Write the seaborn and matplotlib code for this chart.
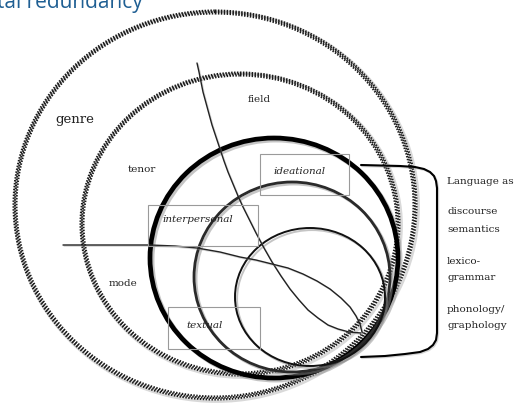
import numpy as np
import pandas as pd
import matplotlib
matplotlib.use("Agg")
import matplotlib.pyplot as plt
import matplotlib.patheffects as pe
from matplotlib.patches import Ellipse, Rectangle
import seaborn as sns

# Diagram geometry (pixel coordinates)
ring_names = ["genre", "register", "language", "discourse", "lexicogrammar"]
ring_cx = [215, 240, 274, 292, 310]
ring_cy = [205, 224, 258, 277, 297]
ring_w = [400, 316, 248, 196, 150]
ring_h = [386, 300, 240, 190, 138]

field_x = [197, 199, 201, 203, 206, 209, 212, 216, 220, 224, 228, 233, 238, 243, 249,
           256, 264, 272, 281, 290, 299, 308, 318, 328, 338, 349, 361]
field_y = [63, 72, 82, 92, 103, 114, 125, 137, 149, 161, 172, 184, 196, 207, 219,
           233, 248, 262, 276, 289, 300, 310, 318, 325, 329, 332, 333]

mode_x = [63, 100, 150, 175, 197, 220, 240, 256, 272, 288, 303, 317, 330, 341, 350,
          356, 360, 362]
mode_y = [245, 245, 245, 246, 248, 252, 257, 260, 264, 268, 274, 281, 289, 298, 307,
          316, 324, 332]

bracket_x = [361, 400, 415, 424, 430, 434, 436, 437, 437, 437, 436, 433, 428, 420,
             405, 385, 361]
bracket_y = [165, 166, 167, 169, 172, 176, 181, 188, 200, 333, 340, 345, 349, 352,
             354, 356, 357]

context_labels = ["genre", "field", "tenor", "mode"]
context_x = [75, 259, 142, 123]
context_y = [119, 100, 170, 283]

meta_labels = ["ideational", "interpersonal", "textual"]
meta_box = [(260, 154, 89, 41), (148, 205, 110, 41), (168, 307, 92, 42)]
meta_text = [(300, 171), (198, 220), (205, 325)]

strata_labels = ["Language as", "discourse", "semantics", "lexico-", "grammar",
                 "phonology/", "graphology"]
strata_y = [181, 212, 229, 261, 277, 309, 325]

sns.set_theme(style="white")
plt.rcParams["font.family"] = ["DejaVu Serif"]

fig = plt.figure(figsize=(5.2, 4.03), dpi=100)
ax = fig.add_axes([0, 0, 1, 1])
ax.set_xlim(0, 520)
ax.set_ylim(403, 0)
ax.axis("off")

shadow = [pe.SimpleLineShadow(offset=(0.8, -0.8), shadow_color="0.6", alpha=0.4), pe.Normal()]

# dotted context rings: rows of small dots
for i in range(2):
    for d in (-3.0, 0.0, 3.0):
        e = Ellipse((ring_cx[i], ring_cy[i]), ring_w[i] + d, ring_h[i] + d, fill=False,
                    ec="#1a1a1a", lw=1.5, ls=(0, (0.7, 0.7)), zorder=2)
        ax.add_patch(e)
    ax.add_patch(Ellipse((ring_cx[i] + 1.5, ring_cy[i] + 1.5), ring_w[i] + 4, ring_h[i] + 4,
                         fill=False, ec="0.85", lw=2.0, zorder=1))

# language strata rings
styles = [(3.4, "black"), (2.0, "#2a2a2a"), (1.4, "#111111")]
for i, (lw, col) in zip(range(2, 5), styles):
    e = Ellipse((ring_cx[i], ring_cy[i]), ring_w[i], ring_h[i], fill=False,
                ec=col, lw=lw, zorder=4)
    e.set_path_effects([pe.SimpleLineShadow(offset=(1.5, -1.5), shadow_color="0.55", alpha=0.5),
                        pe.Normal()])
    ax.add_patch(e)

# field / mode curves
curves = pd.concat([
    pd.DataFrame({"x": field_x, "y": field_y, "line": "field"}),
    pd.DataFrame({"x": mode_x, "y": mode_y, "line": "mode"}),
])
sns.lineplot(data=curves, x="x", y="y", units="line", estimator=None, sort=False,
             color="#222222", lw=1.0, ax=ax, zorder=5)

# bracket
sns.lineplot(x=bracket_x, y=bracket_y, sort=False, estimator=None, color="black",
             lw=1.5, ax=ax, zorder=5)

for line in ax.lines:
    line.set_path_effects(shadow)
    line.set_solid_joinstyle("round")

# metafunction boxes
for lab, (bx, by, bw, bh), (tx, ty) in zip(meta_labels, meta_box, meta_text):
    ax.add_patch(Rectangle((bx, by), bw, bh, fill=False, ec="#9a9a9a", lw=0.8, zorder=6))
    ax.text(tx, ty, lab, style="italic", fontsize=7.5, color="#222222",
            ha="center", va="center", zorder=7)

for lab, x, y in zip(context_labels, context_x, context_y):
    ax.text(x, y, lab, fontsize=9.5 if lab == "genre" else 7.5, color="#222222",
            ha="center", va="center", zorder=7)

for lab, y in zip(strata_labels, strata_y):
    ax.text(447, y, lab, fontsize=7.5, color="#222222", ha="left", va="center", zorder=7)

# slide title, cut off at the top edge as in the source
ax.text(143, 8, "Fractal redundancy", fontsize=15, color="#1f5f93", ha="right",
        va="baseline", family=["Open Sans", "DejaVu Sans"], zorder=7)

fig.savefig("out.png", dpi=100)
